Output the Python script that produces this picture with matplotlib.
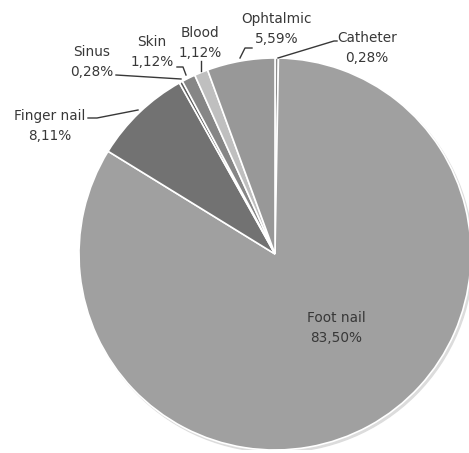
import numpy as np
import matplotlib
matplotlib.use("Agg")
import matplotlib.pyplot as plt
from matplotlib.patches import Circle

# Dati
categorie = ["Catheter", "Foot nail", "Finger nail", "Sinus", "Skin", "Blood", "Ophtalmic"]
percentuali = [0.28, 83.50, 8.11, 0.28, 1.12, 1.12, 5.59]
etichette_pct = ["0,28%", "83,50%", "8,11%", "0,28%", "1,12%", "1,12%", "5,59%"]
colori = ["#8e8e8e", "#a0a0a0", "#727272", "#5c5c5c", "#868686", "#bfbfbf", "#989898"]

W, H = 469, 453
cx, cy, R = 275, 254, 196

def px(x, y):
    # pixel immagine -> coordinate dati
    return (x - cx) / R, (cy - y) / R

fig = plt.figure(figsize=(W / 100, H / 100), dpi=100)
ax = fig.add_axes([(cx - R) / W, (H - cy - R) / H, 2 * R / W, 2 * R / H])
ax.axis("off")

# ombra leggera
ax.add_patch(Circle((0.010, -0.012), 1.0, color="#dcdcdc", zorder=0))

ax.pie(percentuali, colors=colori, startangle=90, counterclock=False, radius=1.0,
       wedgeprops=dict(edgecolor="white", linewidth=1.2))
ax.set_xlim(-1, 1)
ax.set_ylim(-1, 1)
ax.set_aspect("auto")

# posizioni etichette (pixel) e linee guida
pos_testo = {
    "Catheter": (367, 48),
    "Foot nail": (336, 328),
    "Finger nail": (50, 126),
    "Sinus": (92, 62),
    "Skin": (152, 52),
    "Blood": (200, 43),
    "Ophtalmic": (277, 29),
}
guide = {
    "Catheter": [(278, 58), (334, 41), (337, 41)],
    "Finger nail": [(138, 110), (97, 118), (88, 118)],
    "Sinus": [(181, 79), (116, 75)],
    "Skin": [(186, 75), (183, 67), (177, 67)],
    "Blood": [(201, 71), (201, 61)],
    "Ophtalmic": [(240, 58), (245, 48), (252, 48)],
}

for nome, pct in zip(categorie, etichette_pct):
    x, y = px(*pos_testo[nome])
    ax.text(x, y, nome + "\n" + pct, ha="center", va="center", fontsize=9.8,
            color="#383838", linespacing=1.6, clip_on=False)
    if nome in guide:
        pts = [px(*p) for p in guide[nome]]
        ax.plot([p[0] for p in pts], [p[1] for p in pts], color="#383838",
                linewidth=1.0, clip_on=False)

fig.savefig("out.png", dpi=100)
